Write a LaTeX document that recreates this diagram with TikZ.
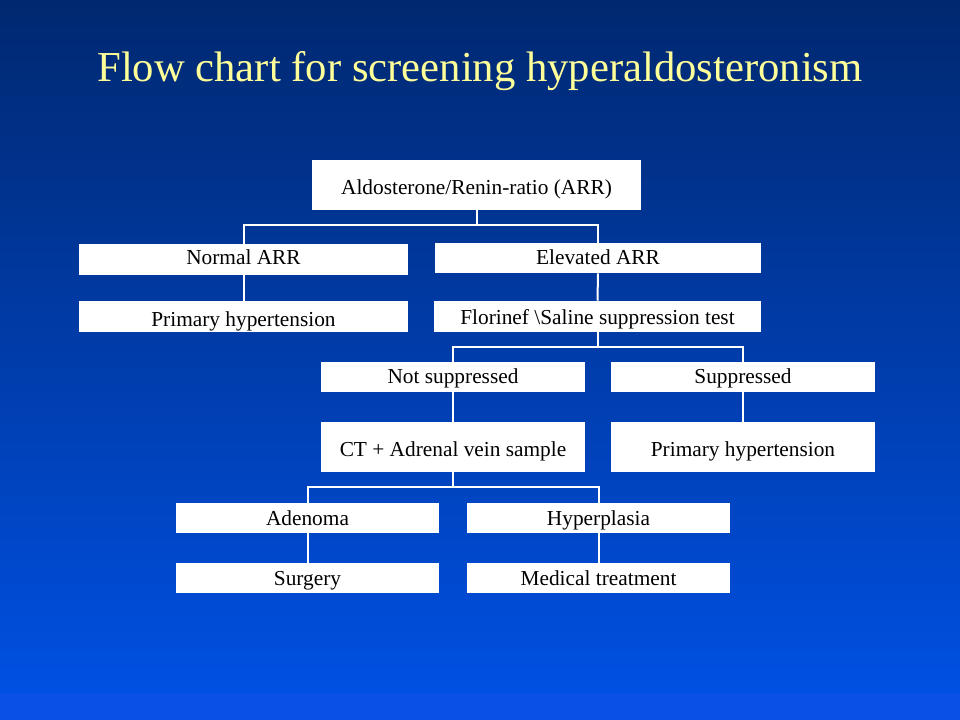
\documentclass[tikz,border=0pt]{standalone}
\usepackage{fontspec}
\setmainfont{Liberation Serif}
\definecolor{bgtop}{RGB}{0,40,112}
\definecolor{bgbot}{RGB}{0,80,226}
\definecolor{bgband}{RGB}{10,80,230}
\definecolor{titleyellow}{RGB}{255,255,153}
\tikzset{
  box/.style={fill=white, draw=none, inner sep=0pt, text=black,
    font=\fontsize{16}{19}\selectfont, align=center,
    text height=10.5pt, text depth=0pt},
  link/.style={draw=white, line width=1.5pt}
}
\begin{document}
\begin{tikzpicture}[x=0.75pt,y=-0.75pt]
\useasboundingbox (0,0) rectangle (960,720);
\shade[top color=bgtop, bottom color=bgbot] (0,0) rectangle (960,694);
\fill[bgband] (0,693) rectangle (960,720);
\node[text=titleyellow, font=\fontsize{32}{38}\selectfont, anchor=base, inner sep=0pt] (title) at (480,82) {Flow chart for screening hyperaldosteronism};

\node[box, text height=14pt, minimum width=329*0.75pt, minimum height=50*0.75pt] (arr) at (476.5,185) {Aldosterone/Renin-ratio (ARR)};
\node[box, text height=7.8pt, minimum width=329*0.75pt, minimum height=31*0.75pt] (normal) at (243.5,259.5) {Normal ARR};
\node[box, minimum width=326*0.75pt, minimum height=30*0.75pt] (elev) at (598,258) {Elevated ARR};
\node[box, text height=15pt, minimum width=329*0.75pt, minimum height=31*0.75pt] (ph1) at (243.5,316.5) {Primary hypertension};
\node[box, text height=11.5pt, minimum width=327*0.75pt, minimum height=31*0.75pt] (flor) at (597.5,316.5) {Florinef \textbackslash Saline suppression test};
\node[box, text height=9.5pt, minimum width=264*0.75pt, minimum height=30*0.75pt] (notsup) at (453,377) {Not suppressed};
\node[box, text height=9.5pt, minimum width=264*0.75pt, minimum height=30*0.75pt] (sup) at (743,377) {Suppressed};
\node[box, text height=14.25pt, minimum width=264*0.75pt, minimum height=50*0.75pt] (ct) at (453,447) {CT + Adrenal vein sample};
\node[box, text height=14.25pt, minimum width=264*0.75pt, minimum height=50*0.75pt] (ph2) at (743,447) {Primary hypertension};
\node[box, minimum width=263*0.75pt, minimum height=30*0.75pt] (aden) at (307.5,518) {Adenoma};
\node[box, minimum width=263*0.75pt, minimum height=30*0.75pt] (hyper) at (598.5,518) {Hyperplasia};
\node[box, text height=11pt, minimum width=263*0.75pt, minimum height=30*0.75pt] (surg) at (307.5,578) {Surgery};
\node[box, text height=11pt, minimum width=263*0.75pt, minimum height=30*0.75pt] (med) at (598.5,578) {Medical treatment};

\coordinate (j1) at (476.5,225);
\coordinate (j2) at (597.5,347);
\coordinate (j3) at (453,487);

\draw[link] (arr.south) -- (j1);
\draw[link] (j1) -| (normal.north);
\draw[link] (j1) -| (elev.north);
\draw[link] (normal.south) -- (ph1.north);
\draw[link] (elev.south) -- (flor.north);
\draw[link] (flor.south) -- (j2);
\draw[link] (j2) -| (notsup.north);
\draw[link] (j2) -| (sup.north);
\draw[link] (notsup.south) -- (ct.north);
\draw[link] (sup.south) -- (ph2.north);
\draw[link] (ct.south) -- (j3);
\draw[link] (j3) -| (aden.north);
\draw[link] (j3) -| (hyper.north);
\draw[link] (aden.south) -- (surg.north);
\draw[link] (hyper.south) -- (med.north);
\end{tikzpicture}
\end{document}
